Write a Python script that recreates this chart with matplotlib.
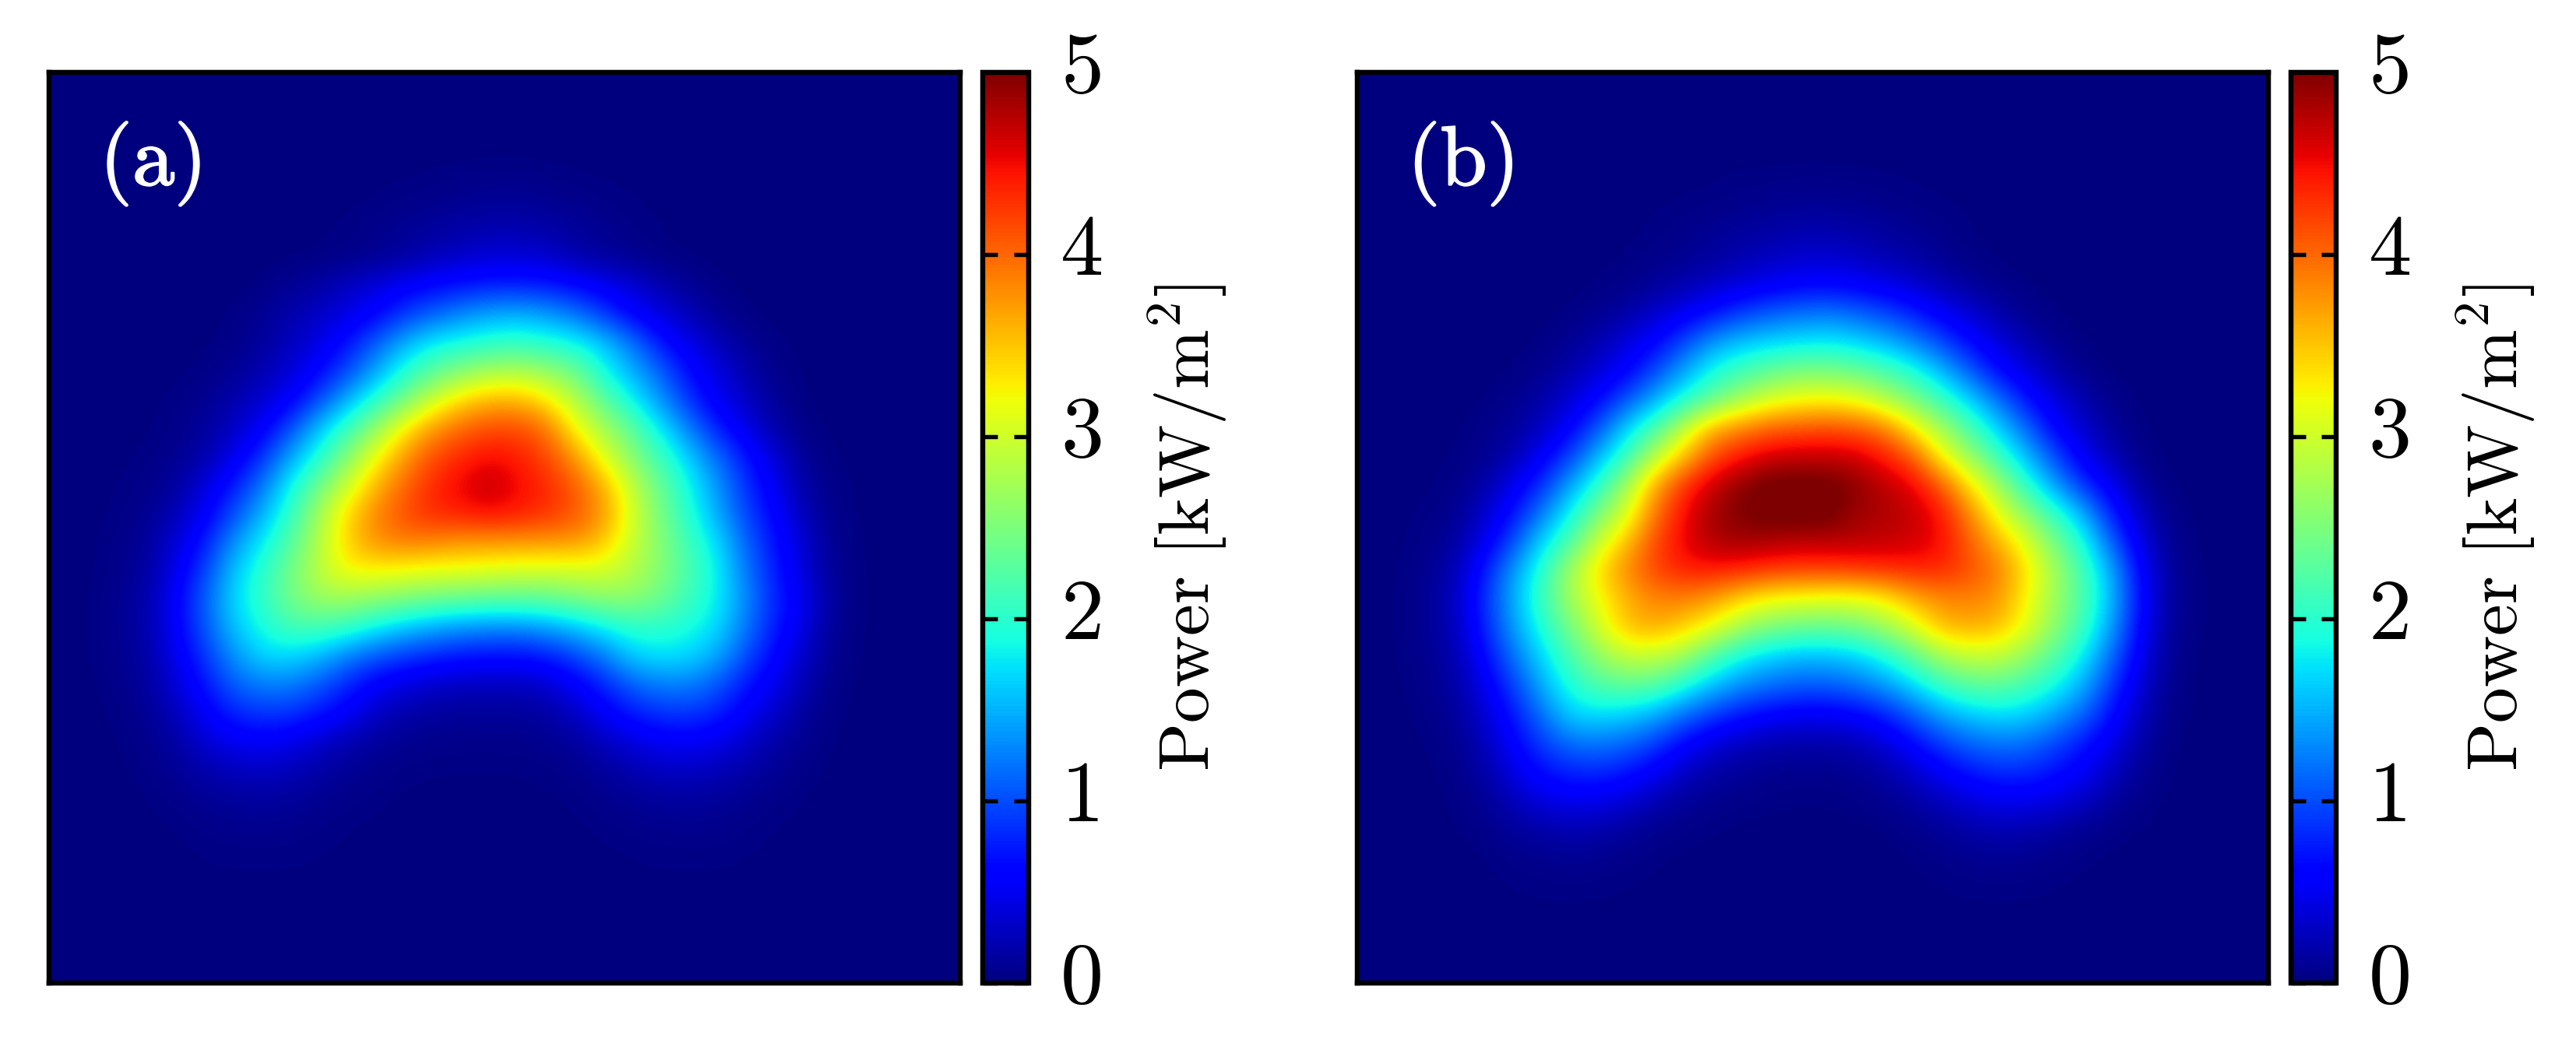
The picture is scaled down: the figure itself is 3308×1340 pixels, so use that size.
import numpy as np
import matplotlib
matplotlib.use("Agg")
import matplotlib.pyplot as plt
import matplotlib.patheffects as pe
from matplotlib.transforms import ScaledTranslation

plt.rcParams['mathtext.fontset'] = 'cm'
plt.rcParams['font.family'] = ['cmr10', 'DejaVu Sans']
plt.rcParams['axes.formatter.use_mathtext'] = True

panel_labels = ['(a)', '(b)']
cbar_ticks = [0, 1, 2, 3, 4, 5]
cbar_tick_labels = ['0', '1', '2', '3', '4', '5']
cbar_title = r'$\mathrm{Power\ [kW/m^2]}$'

Z = [0]*32
power_a = [
 Z, Z, Z,
 [0,0,0,0,0,0,0,0,0,0,0,.01,.01,.02,.03,.04,.04,.03,.02,.01,.01,0,0,0,0,0,0,0,0,0,0,0],
 [0,0,0,0,0,0,0,0,0,0,.01,.02,.04,.06,.08,.1,.1,.08,.06,.04,.02,.01,0,0,0,0,0,0,0,0,0,0],
 [0,0,0,0,0,0,0,0,0,.01,.03,.06,.1,.14,.18,.22,.22,.18,.13,.08,.04,.02,.01,0,0,0,0,0,0,0,0,0],
 [0,0,0,0,0,0,0,0,.01,.02,.05,.08,.15,.25,.32,.38,.38,.35,.2,.13,.08,.03,.01,0,0,0,0,0,0,0,0,0],
 [0,0,0,0,0,0,0,.03,.1,.17,.3,.42,.55,.65,.72,.78,.78,.75,.65,.52,.38,.22,.1,.04,0,0,0,0,0,0,0,0],
 [0,0,0,0,0,0,.03,.1,.2,.3,.45,.6,.9,1.1,1.3,1.45,1.5,1.4,1.2,.9,.58,.42,.25,.1,.03,0,0,0,0,0,0,0],
 [0,0,0,0,0,.01,.04,.13,.27,.45,.7,1.1,1.5,1.8,1.9,2.0,2.05,1.95,1.85,1.6,1.2,.7,.45,.25,.1,.03,0,0,0,0,0,0],
 [0,0,0,0,.01,.03,.1,.22,.38,.62,1.0,1.45,1.95,2.3,2.55,2.75,2.8,2.65,2.4,1.85,1.5,1.1,.65,.42,.2,.06,.01,0,0,0,0,0],
 [0,0,0,.01,.03,.08,.2,.35,.55,1.0,1.5,2.0,2.45,3.0,3.4,3.6,3.6,3.3,2.85,2.3,1.8,1.35,.85,.5,.3,.1,.02,0,0,0,0,0],
 [0,0,0,.01,.05,.13,.3,.55,1.0,1.6,2.1,2.65,3.3,3.75,4.0,4.15,4.15,3.95,3.2,2.75,2.3,1.75,1.25,.75,.45,.18,.04,.01,0,0,0,0],
 [0,0,.01,.03,.08,.2,.48,.85,1.45,1.95,2.55,3.2,3.75,4.15,4.35,4.5,4.4,4.15,3.75,3.1,2.55,2.1,1.6,1.15,.7,.38,.1,.02,0,0,0,0],
 [0,0,.02,.05,.14,.4,.75,1.2,1.85,2.4,3.0,3.6,4.0,4.35,4.55,4.7,4.5,4.35,4.05,3.6,2.9,2.35,1.85,1.35,.85,.5,.17,.04,.01,0,0,0],
 [0,.01,.03,.08,.25,.55,1.0,1.5,2.05,2.75,3.4,3.85,4.15,4.35,4.4,4.5,4.4,4.3,4.1,3.75,3.05,2.45,1.95,1.45,.95,.6,.25,.06,.01,0,0,0],
 [0,.01,.05,.12,.4,.75,1.35,1.8,2.25,2.85,3.45,3.8,3.9,3.85,3.75,3.75,3.75,3.75,3.75,3.5,2.95,2.55,2.1,1.7,1.1,.7,.35,.09,.01,0,0,0],
 [0,.01,.06,.15,.5,.95,1.6,2.0,2.45,2.9,3.25,3.25,3.2,3.15,3.15,3.1,3.05,3.0,3.05,3.05,2.85,2.55,2.2,1.8,1.2,.75,.38,.1,.02,0,0,0],
 [0,.02,.08,.2,.6,1.1,1.7,2.05,2.45,2.7,2.7,2.6,2.5,2.4,2.35,2.3,2.3,2.35,2.45,2.6,2.6,2.4,2.1,1.8,1.3,.8,.5,.12,.02,0,0,0],
 [0,.02,.08,.2,.58,1.05,1.6,1.9,2.15,2.15,2.05,1.8,1.6,1.45,1.35,1.3,1.3,1.4,1.6,1.8,2.0,2.0,1.9,1.7,1.2,.75,.42,.1,.02,0,0,0],
 [0,.02,.07,.18,.5,.9,1.35,1.7,1.7,1.55,1.25,1.05,.9,.8,.72,.68,.68,.75,.95,1.25,1.65,1.75,1.7,1.45,1.0,.62,.32,.08,.01,0,0,0],
 [0,.01,.05,.14,.4,.72,1.1,1.25,1.25,1.05,.8,.55,.42,.32,.28,.28,.28,.35,.55,.8,1.1,1.25,1.25,1.05,.72,.48,.22,.05,.01,0,0,0],
 [0,.01,.03,.1,.27,.55,.8,.9,.88,.72,.55,.3,.2,.14,.12,.12,.12,.16,.3,.55,.75,.88,.9,.78,.55,.32,.14,.03,0,0,0,0],
 [0,0,.02,.06,.17,.38,.5,.55,.48,.35,.22,.13,.08,.06,.05,.05,.05,.08,.14,.28,.42,.52,.55,.48,.32,.18,.08,.02,0,0,0,0],
 [0,0,.01,.04,.1,.2,.28,.3,.26,.18,.1,.06,.03,.02,.02,.02,.02,.03,.06,.13,.22,.3,.3,.26,.18,.1,.04,.01,0,0,0,0],
 [0,0,0,.02,.05,.1,.13,.15,.13,.08,.05,.03,.01,.01,.01,.01,.01,.01,.03,.06,.1,.14,.15,.12,.08,.04,.02,0,0,0,0,0],
 [0,0,0,.01,.02,.05,.06,.07,.06,.04,.02,.01,.01,0,0,0,0,.01,.01,.03,.05,.06,.07,.06,.04,.02,.01,0,0,0,0,0],
 [0,0,0,0,.01,.02,.03,.03,.03,.02,.01,0,0,0,0,0,0,0,0,.01,.02,.03,.03,.03,.02,.01,0,0,0,0,0,0],
 [0,0,0,0,0,.01,.01,.01,.01,.01,0,0,0,0,0,0,0,0,0,0,.01,.01,.01,.01,.01,0,0,0,0,0,0,0],
 Z, Z, Z,
]

power_b = [
 Z, Z, Z,
 [0,0,0,0,0,0,0,0,0,0,0,.01,.01,.02,.02,.03,.03,.02,.02,.01,.01,0,0,0,0,0,0,0,0,0,0,0],
 [0,0,0,0,0,0,0,0,0,0,.01,.02,.03,.05,.07,.08,.08,.07,.05,.03,.02,.01,0,0,0,0,0,0,0,0,0,0],
 [0,0,0,0,0,0,0,0,0,.01,.03,.06,.09,.13,.16,.19,.2,.17,.13,.09,.05,.02,.01,0,0,0,0,0,0,0,0,0],
 [0,0,0,0,0,0,0,0,.01,.02,.05,.08,.14,.22,.28,.34,.36,.3,.23,.17,.09,.03,.01,0,0,0,0,0,0,0,0,0],
 [0,0,0,0,0,0,0,0,.02,.05,.12,.22,.32,.42,.52,.6,.62,.58,.48,.38,.25,.14,.06,.02,0,0,0,0,0,0,0,0],
 [0,0,0,0,0,0,0,.03,.08,.18,.35,.52,.72,.95,1.1,1.2,1.25,1.15,1.0,.8,.55,.38,.2,.08,.02,0,0,0,0,0,0,0],
 [0,0,0,0,0,0,.03,.1,.22,.42,.62,1.0,1.4,1.6,1.7,1.75,1.8,1.7,1.55,1.3,1.0,.65,.42,.22,.08,.02,0,0,0,0,0,0],
 [0,0,0,0,0,.02,.07,.2,.38,.6,1.0,1.45,1.9,2.15,2.35,2.5,2.5,2.4,2.2,1.95,1.55,1.1,.65,.42,.2,.06,.01,0,0,0,0,0],
 [0,0,0,0,.02,.07,.18,.38,.65,1.05,1.5,1.95,2.35,2.75,3.05,3.2,3.25,3.15,2.85,2.5,2.1,1.65,1.2,.7,.42,.2,.06,.01,0,0,0,0],
 [0,0,0,.01,.05,.12,.28,.6,1.05,1.7,2.2,2.95,3.65,3.85,4.05,4.1,4.15,4.1,3.9,3.3,2.75,2.2,1.65,1.15,.58,.35,.12,.02,0,0,0,0],
 [0,0,.01,.02,.08,.22,.55,.95,1.55,2.1,2.9,3.55,4.15,4.45,4.65,4.7,4.7,4.65,4.4,4.1,3.25,2.7,2.1,1.55,1.0,.5,.25,.05,.01,0,0,0],
 [0,0,.01,.05,.17,.5,.85,1.45,2.0,2.75,3.7,4.3,4.7,4.95,5.1,5.1,5.1,4.95,4.75,4.55,4.1,3.35,2.75,2.0,1.4,.85,.5,.14,.02,0,0,0],
 [0,.01,.03,.08,.35,.7,1.25,1.85,2.5,3.1,3.95,4.5,4.85,5.0,5.1,5.1,5.1,4.85,4.8,4.7,4.45,3.85,3.15,2.6,2.05,1.5,.75,.3,.05,.01,0,0],
 [0,.01,.05,.15,.5,1.0,1.7,2.2,3.0,3.55,4.2,4.55,4.8,4.85,4.8,4.75,4.75,4.75,4.7,4.65,4.5,4.05,3.6,3.1,2.45,1.9,1.1,.45,.1,.01,0,0],
 [0,.02,.08,.25,.75,1.4,2.0,2.75,3.4,3.85,4.2,4.4,4.4,4.35,4.25,4.2,4.2,4.25,4.3,4.35,4.35,4.15,3.9,3.35,2.75,2.15,1.45,.6,.13,.02,0,0],
 [0,.02,.1,.3,.85,1.5,2.1,2.75,3.2,3.6,3.85,3.85,3.7,3.4,3.2,3.15,3.1,3.1,3.25,3.6,3.8,3.85,3.75,3.25,2.7,2.2,1.55,.65,.15,.02,0,0],
 [0,.02,.1,.28,.8,1.4,1.95,2.45,3.05,3.55,3.65,3.45,3.15,2.75,2.5,2.4,2.35,2.45,2.7,3.05,3.55,3.65,3.55,3.15,2.6,2.1,1.4,.6,.12,.02,0,0],
 [0,.02,.08,.22,.65,1.2,1.7,2.2,2.65,2.95,2.95,2.7,2.2,1.85,1.65,1.55,1.55,1.65,1.9,2.3,2.75,2.95,2.95,2.65,2.25,1.8,1.15,.5,.1,.01,0,0],
 [0,.01,.06,.17,.5,.95,1.5,1.95,2.25,2.35,2.3,1.95,1.6,1.35,1.2,1.1,1.1,1.2,1.4,1.7,2.1,2.3,2.35,2.15,1.9,1.5,.9,.38,.07,.01,0,0],
 [0,.01,.04,.12,.38,.75,1.2,1.7,1.75,1.7,1.5,1.2,.95,.75,.62,.55,.55,.62,.8,1.1,1.45,1.65,1.75,1.7,1.45,1.15,.68,.28,.05,.01,0,0],
 [0,0,.02,.08,.27,.6,.95,1.2,1.25,1.15,.95,.65,.42,.3,.22,.2,.2,.25,.4,.65,.95,1.15,1.25,1.2,1.0,.75,.48,.18,.03,0,0,0],
 [0,0,.01,.05,.18,.45,.7,.82,.85,.75,.55,.3,.18,.12,.08,.07,.07,.1,.18,.35,.55,.75,.85,.85,.72,.55,.3,.1,.02,0,0,0],
 [0,0,0,.03,.1,.28,.45,.52,.5,.4,.25,.14,.08,.05,.03,.02,.02,.04,.08,.16,.3,.42,.52,.52,.45,.33,.15,.05,.01,0,0,0],
 [0,0,0,.02,.05,.14,.2,.25,.22,.15,.08,.04,.02,.01,.01,.01,.01,.01,.02,.06,.12,.2,.25,.23,.17,.1,.05,.02,0,0,0,0],
 [0,0,0,0,.02,.05,.08,.1,.08,.05,.03,.01,.01,0,0,0,0,0,.01,.02,.05,.08,.1,.09,.06,.03,.01,0,0,0,0,0],
 [0,0,0,0,.01,.02,.03,.04,.03,.02,.01,0,0,0,0,0,0,0,0,.01,.02,.03,.04,.03,.02,.01,0,0,0,0,0,0],
 [0,0,0,0,0,.01,.01,.01,.01,.01,0,0,0,0,0,0,0,0,0,0,.01,.01,.01,.01,.01,0,0,0,0,0,0,0],
 Z, Z,
]

W, H = 3308, 1340
fig = plt.figure(figsize=(W/300, H/300), dpi=300)


def px_axes(x0, x1, y0, y1):
    return fig.add_axes([x0/W, 1-y1/H, (x1-x0)/W, (y1-y0)/H])


panels = [(power_a, 63.5, 1233, 1262, 1320.5), (power_b, 1743, 2912.5, 2941.5, 3000)]
for (data, x0, x1, c0, c1), lab in zip(panels, panel_labels):
    ax = px_axes(x0, x1, 93, 1263)
    im = ax.imshow(np.array(data, float), cmap='jet', vmin=0, vmax=5,
                   interpolation='bicubic', aspect='auto',
                   extent=[0, 1, 1, 0])
    ax.set_xticks([])
    ax.set_yticks([])
    for s in ax.spines.values():
        s.set_linewidth(1.55)
    txt = ax.text(0.055, 0.90, lab, transform=ax.transAxes, color='white', fontsize=26,
                  ha='left', va='center')
    txt.set_path_effects([pe.withStroke(linewidth=0.5, foreground='white')])

    cax = px_axes(c0, c1, 93, 1263)
    cb = fig.colorbar(im, cax=cax, ticks=cbar_ticks)
    cb.outline.set_linewidth(1.55)
    cax.set_yticklabels(cbar_tick_labels, fontsize=26.5)
    cax.tick_params(axis='y', which='both', direction='in', left=True, right=True,
                    length=4.6, width=1.3, pad=10)
    shift = ScaledTranslation(0, 13/300, fig.dpi_scale_trans)
    for t in cax.get_yticklabels():
        t.set_transform(t.get_transform() + shift)
    cax.set_ylabel(cbar_title, fontsize=22, labelpad=0)
    cax.yaxis.set_label_coords(3.6, 0.5)

fig.savefig('out.png', dpi=300)
